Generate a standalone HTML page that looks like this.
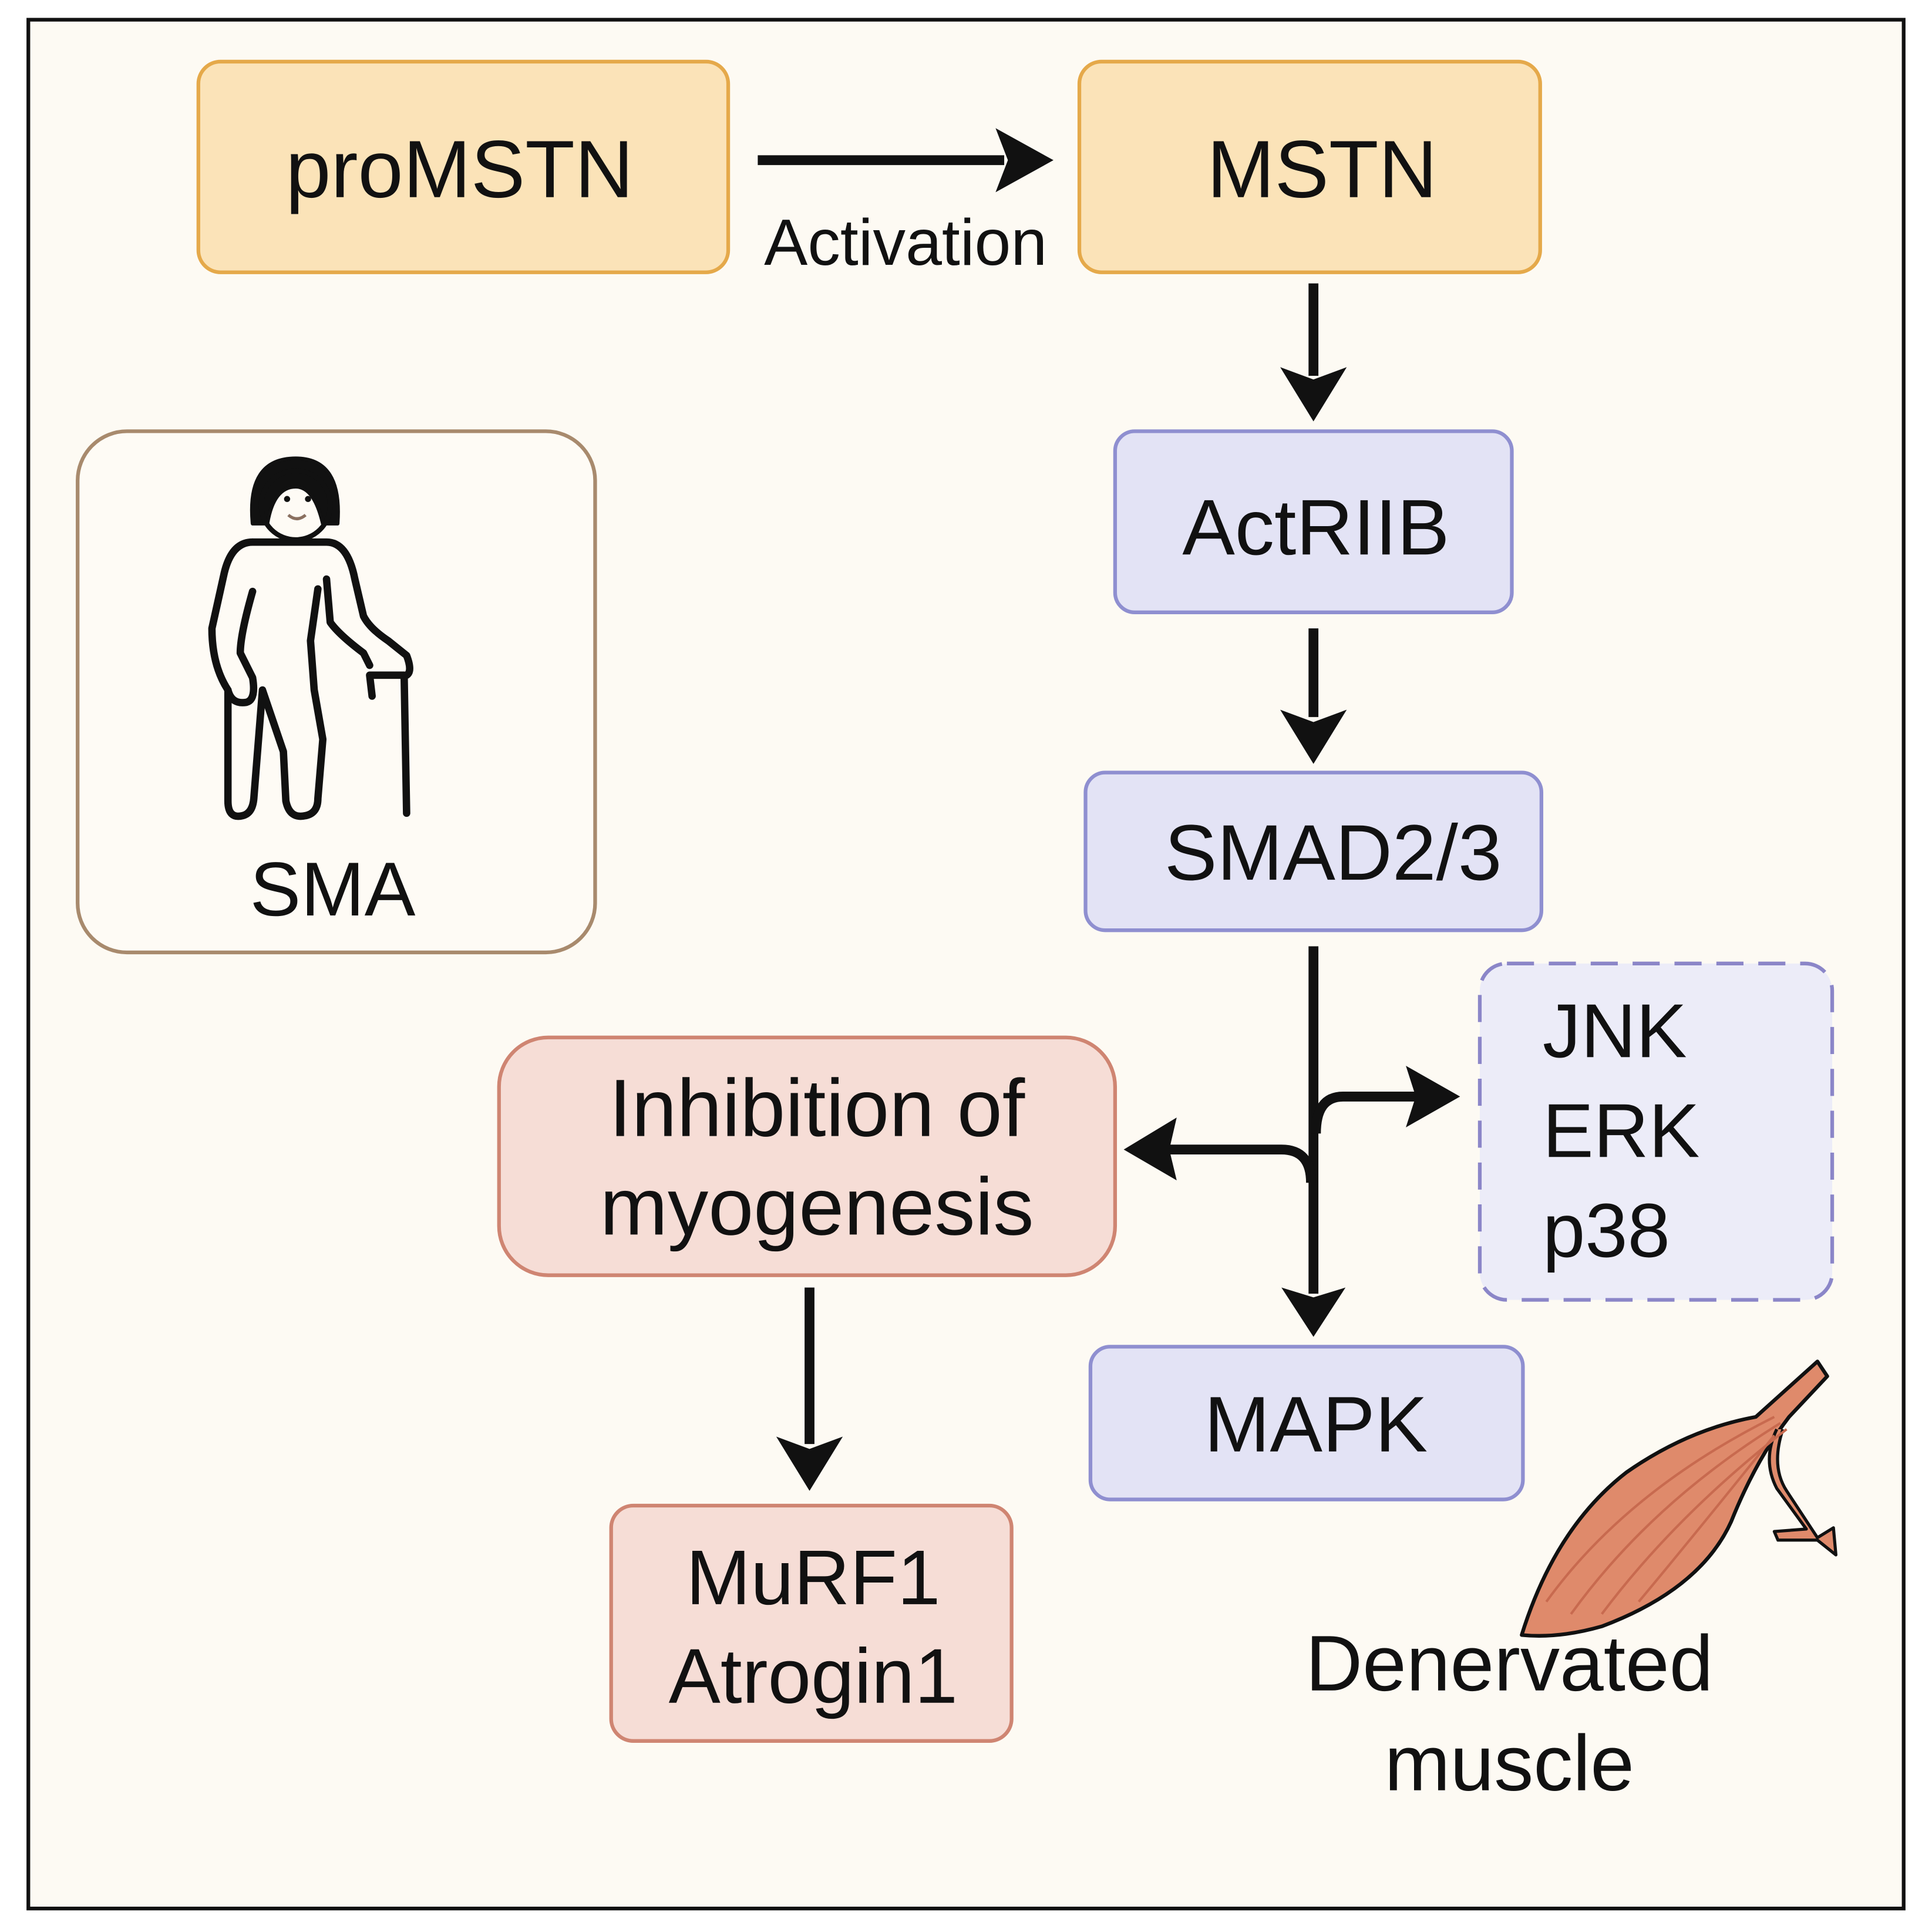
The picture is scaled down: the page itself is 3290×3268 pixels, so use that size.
<!DOCTYPE html>
<html><head><meta charset="utf-8"><style>
html,body{margin:0;padding:0;background:#fdfbf5;}
svg{display:block;}
text{font-family:"Liberation Sans",sans-serif;fill:#111;}
</style></head><body>
<svg width="3290" height="3268" viewBox="0 0 1568 1557.5" xmlns="http://www.w3.org/2000/svg">
<rect x="0" y="0" width="1568" height="1558" fill="#ffffff"/>
<rect x="23" y="16" width="1522" height="1533" fill="#fdfaf3" stroke="#111" stroke-width="3"/>
<!-- proMSTN -->
<rect x="161" y="50" width="430" height="171" rx="18" fill="#fbe3b8" stroke="#e5a94a" stroke-width="3"/>
<text x="373" y="160" font-size="66" text-anchor="middle">proMSTN</text>
<line x1="615" y1="130" x2="815" y2="130" stroke="#111" stroke-width="8"/>
<polygon points="855,130 808,104 818,130 808,156" fill="#111"/>
<text x="735" y="215" font-size="53" text-anchor="middle">Activation</text>
<!-- MSTN -->
<rect x="876" y="50" width="374" height="171" rx="18" fill="#fbe3b8" stroke="#e5a94a" stroke-width="3"/>
<text x="1073" y="160" font-size="66" text-anchor="middle">MSTN</text>
<line x1="1066" y1="230" x2="1066" y2="305" stroke="#111" stroke-width="8"/>
<polygon points="1066,342 1039,298 1066,308 1093,298" fill="#111"/>
<!-- ActRIIB -->
<rect x="905" y="350" width="322" height="147" rx="16" fill="#e3e3f5" stroke="#8f8fd0" stroke-width="3"/>
<text x="1068" y="450" font-size="64" text-anchor="middle">ActRIIB</text>
<line x1="1066" y1="510" x2="1066" y2="582" stroke="#111" stroke-width="8"/>
<polygon points="1066,620 1039,576 1066,586 1093,576" fill="#111"/>
<!-- SMAD -->
<rect x="881" y="627" width="370" height="128" rx="16" fill="#e3e3f5" stroke="#8f8fd0" stroke-width="3"/>
<text x="1082" y="714" font-size="64" text-anchor="middle">SMAD2/3</text>
<!-- branching -->
<line x1="1066" y1="768" x2="1066" y2="1050" stroke="#111" stroke-width="8"/>
<polygon points="1066,1085 1040,1045 1066,1053 1092,1045" fill="#111"/>
<path d="M1068,920 Q1068,890 1090,890 L1150,890" fill="none" stroke="#111" stroke-width="8"/>
<polygon points="1185,890 1141,865 1149,890 1141,915" fill="#111"/>
<path d="M1064,960 Q1064,933 1040,933 L945,933" fill="none" stroke="#111" stroke-width="8"/>
<polygon points="912,933 955,907 949,933 955,958" fill="#111"/>
<!-- JNK box -->
<rect x="1201" y="782" width="286" height="273" rx="22" fill="#ececf8" stroke="#8b86c8" stroke-width="3" stroke-dasharray="22,12"/>
<text x="1252" y="858" font-size="62">JNK</text>
<text x="1252" y="939" font-size="62">ERK</text>
<text x="1252" y="1020" font-size="62">p38</text>
<!-- Inhibition -->
<rect x="405" y="842" width="500" height="193" rx="40" fill="#f6ddd6" stroke="#cf8572" stroke-width="3"/>
<text x="663" y="922" font-size="66" text-anchor="middle">Inhibition of</text>
<text x="663" y="1002" font-size="66" text-anchor="middle">myogenesis</text>
<line x1="657" y1="1045" x2="657" y2="1172" stroke="#111" stroke-width="8"/>
<polygon points="657,1210 630,1166 657,1176 684,1166" fill="#111"/>
<!-- MuRF1 -->
<rect x="496" y="1222" width="325" height="191" rx="18" fill="#f6ddd6" stroke="#cf8572" stroke-width="3"/>
<text x="660" y="1302" font-size="63" text-anchor="middle">MuRF1</text>
<text x="660" y="1382" font-size="63" text-anchor="middle">Atrogin1</text>
<!-- MAPK -->
<rect x="885" y="1093" width="351" height="124" rx="16" fill="#e3e3f5" stroke="#8f8fd0" stroke-width="3"/>
<text x="1068" y="1178" font-size="64" text-anchor="middle">MAPK</text>
<!-- SMA box -->
<rect x="63" y="350" width="420" height="423" rx="40" fill="#fefbf5" stroke="#a88a6d" stroke-width="3"/>
<text x="270" y="743" font-size="62" text-anchor="middle">SMA</text>
<!-- person -->
<g fill="none" stroke="#111" stroke-width="6" stroke-linejoin="round" stroke-linecap="round">
<path d="M205,425 Q200,372 240,372 Q278,372 274,425 L262,425 Q255,395 240,395 Q222,395 217,425 Z" fill="#111" stroke-width="3"/>
<circle cx="240" cy="410" r="28" stroke-width="4"/>
<path d="M205,440 Q188,440 182,465 L172,510 Q172,540 185,560 Q188,572 200,570 Q208,568 205,550 L195,530 Q195,515 205,480"/>
<path d="M205,440 L265,440 Q282,440 288,470 L295,500 Q300,510 315,520 L330,532 Q335,545 330,548"/>
<path d="M185,560 L185,650 Q185,665 197,662 Q205,660 206,648 L213,560 L230,610 L232,650 Q235,665 248,662 Q258,660 258,648 L262,600 L255,560 L252,520 L258,478"/>
<path d="M300,548 L302,565 M300,548 L328,548 L330,660" stroke-width="6"/>
<path d="M265,470 L268,505 Q275,515 295,530 L300,540"/>
</g>
<circle cx="233" cy="405" r="2.5" fill="#111"/><circle cx="250" cy="405" r="2.5" fill="#111"/>
<path d="M234,418 Q241,424 248,418" fill="none" stroke="#8a7060" stroke-width="2.5"/>
<!-- muscle -->
<g stroke="#111" stroke-width="3" stroke-linejoin="round">
<path d="M1235,1327 Q1262,1240 1320,1195 Q1370,1160 1425,1150 L1475,1105 L1483,1117 L1452,1150 Q1425,1185 1405,1235 Q1380,1290 1300,1320 Q1265,1330 1235,1327 Z" fill="#df8a6b"/>
<path d="M1447,1160 Q1437,1190 1450,1210 L1475,1248 L1488,1240 L1490,1262 L1475,1250 L1443,1250 L1440,1243 L1466,1241 L1442,1208 Q1430,1185 1442,1160" fill="#df8a6b" stroke-width="2.5"/>
</g>
<g fill="none" stroke="#c86a4f" stroke-width="2">
<path d="M1255,1300 Q1320,1210 1440,1150"/>
<path d="M1275,1310 Q1340,1220 1445,1155"/>
<path d="M1300,1310 Q1360,1230 1450,1160"/>
<path d="M1330,1300 Q1380,1240 1440,1165"/>
</g>
<text x="1225" y="1372" font-size="64" text-anchor="middle">Denervated</text>
<text x="1225" y="1453" font-size="64" text-anchor="middle">muscle</text>
</svg>
</body></html>
